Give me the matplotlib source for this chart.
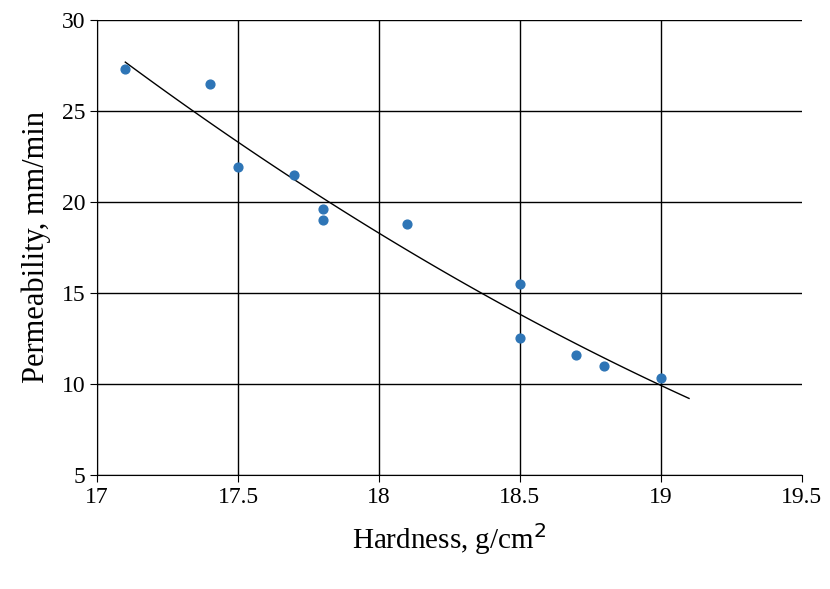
import numpy as np
import matplotlib
matplotlib.use("Agg")
import matplotlib.pyplot as plt

hardness = [17.1, 17.4, 17.5, 17.7, 17.8, 17.8, 18.1, 18.5, 18.5, 18.7, 18.8, 19.0]
permeability = [27.3, 26.5, 21.9, 21.5, 19.6, 19.0, 18.8, 15.5, 12.5, 11.6, 11.0, 10.3]
xticks = [17, 17.5, 18, 18.5, 19, 19.5]
yticks = [5, 10, 15, 20, 25, 30]

plt.rcParams['font.family'] = ['Liberation Serif', 'DejaVu Serif']
fig = plt.figure(figsize=(8.3, 5.89), dpi=100)
ax = fig.add_axes([0.117, 0.194, 0.849, 0.772])

x = np.array(hardness); y = np.array(permeability)
coef = np.polyfit(x, y, 2)
xt = np.linspace(17.1, 19.1, 100)
ax.plot(xt, np.polyval(coef, xt), color='black', lw=1, zorder=2)
ax.scatter(x, y, s=40, color='#2e75b6', zorder=3)

ax.set_xlim(17, 19.5); ax.set_ylim(5, 30)
ax.set_xticks(xticks); ax.set_xticklabels([f"{t:g}" for t in xticks])
ax.set_yticks(yticks)
ax.grid(True, color='black', lw=1)
ax.xaxis.get_gridlines()[-1].set_visible(False)
for s in ['top', 'right']:
    ax.spines[s].set_visible(False)
ax.tick_params(labelsize=17, direction='out', length=5)
ax.set_xlabel("Hardness, g/cm$^2$", fontsize=21, labelpad=10)
ax.set_ylabel("Permeability, mm/min", fontsize=22, labelpad=8)
fig.savefig("out.png", dpi=100)
